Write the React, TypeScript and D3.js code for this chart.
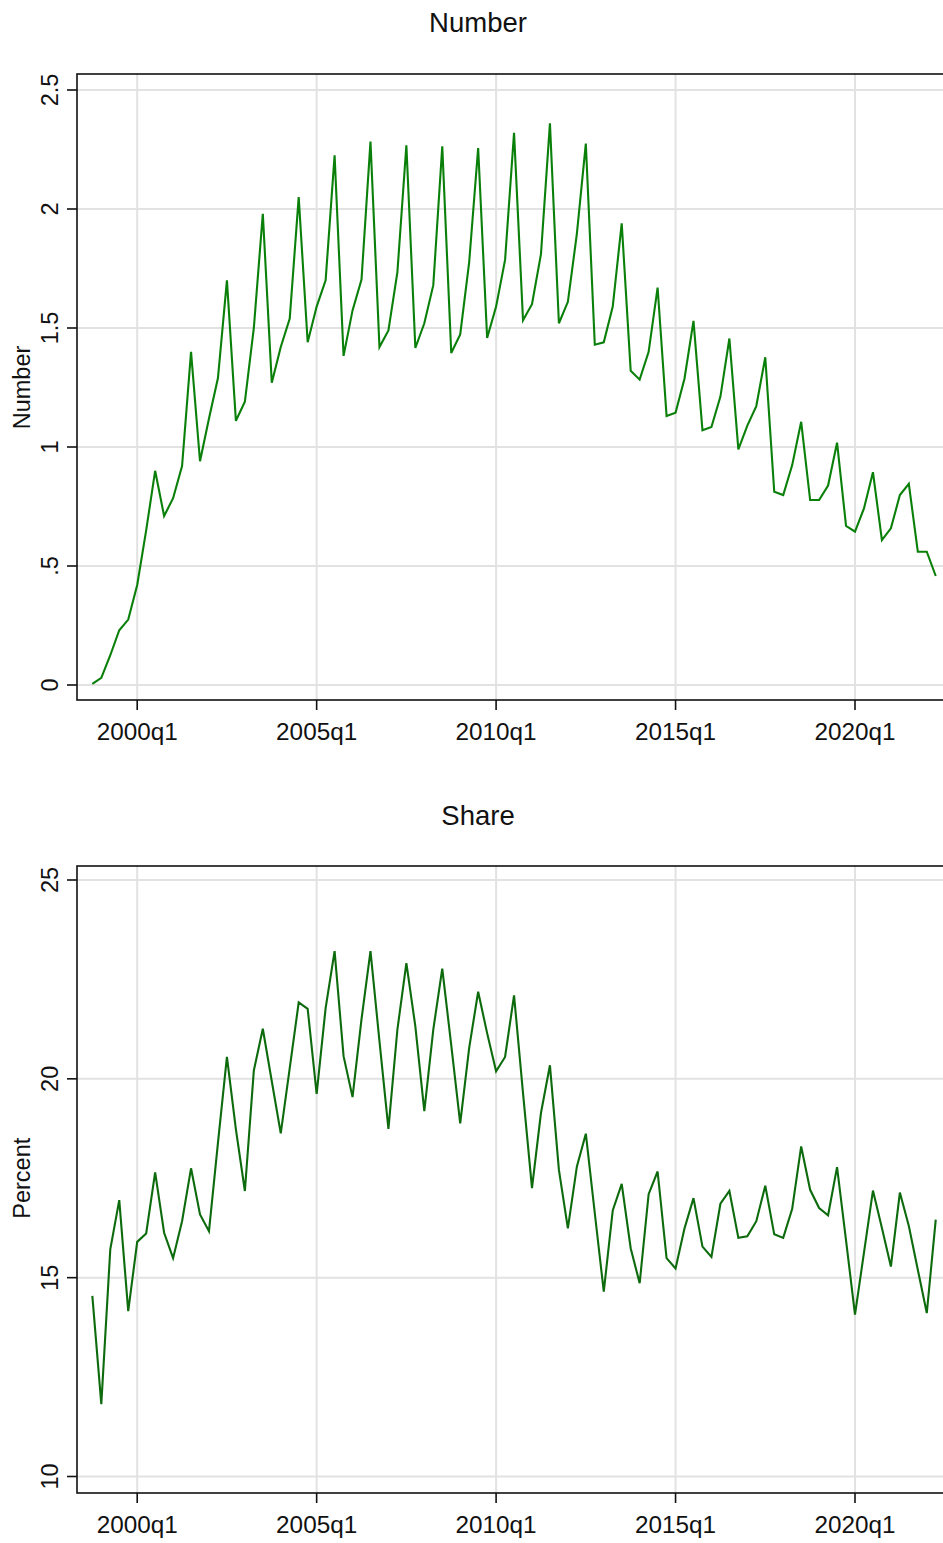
import React from "react";
import * as d3 from "d3";

// quarter index: 0 = 2000q1; data runs from 1998q4 (-5) to 2022q2 (89)
const startIndex = -5;

const numberValues = [
  0.005, 0.03, 0.125, 0.23, 0.275,
  0.42, 0.65, 0.9, 0.71,
  0.785, 0.92, 1.4, 0.94,
  1.12, 1.29, 1.7, 1.11,
  1.19, 1.5, 1.98, 1.27,
  1.42, 1.54, 2.05, 1.44,
  1.59, 1.7, 2.226, 1.383,
  1.574, 1.704, 2.283, 1.42,
  1.49, 1.735, 2.268, 1.416,
  1.52, 1.68, 2.263, 1.395,
  1.473, 1.777, 2.256, 1.458,
  1.59, 1.786, 2.32, 1.532,
  1.6, 1.81, 2.36, 1.52,
  1.61, 1.895, 2.275, 1.43,
  1.44, 1.59, 1.94, 1.32,
  1.283, 1.4, 1.67, 1.13,
  1.144, 1.288, 1.53, 1.07,
  1.084, 1.212, 1.456, 0.99,
  1.09, 1.172, 1.377, 0.812,
  0.798, 0.924, 1.106, 0.777,
  0.777, 0.838, 1.018, 0.669,
  0.644, 0.742, 0.894, 0.609,
  0.658, 0.798, 0.845, 0.56,
  0.56, 0.458,
];

const shareValues = [
  14.54, 11.82, 15.71, 16.95, 14.16,
  15.9, 16.11, 17.65, 16.13,
  15.49, 16.42, 17.75, 16.59,
  16.17, 18.39, 20.55, 18.73,
  17.18, 20.21, 21.26, 19.94,
  18.63, 20.27, 21.92, 21.76,
  19.62, 21.78, 23.21, 20.57,
  19.54, 21.5, 23.21, 20.95,
  18.74, 21.24, 22.91, 21.32,
  19.19, 21.24, 22.77, 20.85,
  18.88, 20.78, 22.19, 21.15,
  20.19, 20.55, 22.1, 19.64,
  17.25, 19.14, 20.34, 17.71,
  16.24, 17.79, 18.62, 16.62,
  14.65, 16.69, 17.36, 15.74,
  14.86, 17.1, 17.67, 15.49,
  15.23, 16.24, 17.0, 15.78,
  15.52, 16.86, 17.18, 16.0,
  16.04, 16.42, 17.31, 16.09,
  16.0, 16.73, 18.3, 17.21,
  16.75, 16.57, 17.78, 15.94,
  14.07, 15.63, 17.19, 16.25,
  15.28, 17.14, 16.3, 15.2,
  14.11, 16.46,
];

const xTickIndices = [0, 20, 40, 60, 80];
const xTickLabels = ["2000q1", "2005q1", "2010q1", "2015q1", "2020q1"];

const numberTicks = [0, 0.5, 1, 1.5, 2, 2.5];
const numberTickLabels = ["0", ".5", "1", "1.5", "2", "2.5"];
const shareTicks = [10, 15, 20, 25];
const shareTickLabels = ["10", "15", "20", "25"];

const W = 943;
const H = 1543;
const FONT = "'Liberation Sans', Arial, sans-serif";

const x = d3.scaleLinear().domain([0, 80]).range([137.2, 855]);

type PanelProps = {
  title: string;
  yTitle: string;
  values: number[];
  ticks: number[];
  tickLabels: string[];
  yDomain: [number, number];
  yRange: [number, number];
  frameTop: number;
  frameBottom: number;
  titleY: number;
  color: string;
};

function Panel(p: PanelProps) {
  const y = d3.scaleLinear().domain(p.yDomain).range(p.yRange);
  const left = 77;
  const right = 946;
  const line = d3
    .line<number>()
    .x((_, i) => x(startIndex + i))
    .y((v) => y(v));
  const yMid = (p.yRange[0] + p.yRange[1]) / 2;
  return (
    <g>
      <text
        x={478}
        y={p.titleY}
        textAnchor="middle"
        fontFamily={FONT}
        fontSize={27.5}
        fill="#111"
      >
        {p.title}
      </text>
      {/* grid */}
      {p.ticks.map((t) => (
        <line
          key={"hg" + t}
          x1={left}
          x2={right}
          y1={y(t)}
          y2={y(t)}
          stroke="#e2e2e2"
          strokeWidth={2}
        />
      ))}
      {xTickIndices.map((t) => (
        <line
          key={"vg" + t}
          x1={x(t)}
          x2={x(t)}
          y1={p.frameTop}
          y2={p.frameBottom}
          stroke="#e2e2e2"
          strokeWidth={2}
        />
      ))}
      {/* data line */}
      <path
        d={line(p.values) || ""}
        fill="none"
        stroke={p.color}
        strokeWidth={2.1}
        strokeLinejoin="miter"
      />
      {/* frame */}
      <rect
        x={left}
        y={p.frameTop}
        width={right - left}
        height={p.frameBottom - p.frameTop}
        fill="none"
        stroke="#111"
        strokeWidth={1.6}
      />
      {/* y ticks */}
      {p.ticks.map((t, i) => (
        <g key={"yt" + t}>
          <line x1={left - 10} x2={left} y1={y(t)} y2={y(t)} stroke="#111" strokeWidth={1.6} />
          <text
            transform={`translate(58,${y(t)}) rotate(-90)`}
            textAnchor="middle"
            fontFamily={FONT}
            fontSize={23.5}
            fill="#111"
          >
            {p.tickLabels[i]}
          </text>
        </g>
      ))}
      <text
        transform={`translate(30,${yMid}) rotate(-90)`}
        textAnchor="middle"
        fontFamily={FONT}
        fontSize={23.5}
        fill="#111"
      >
        {p.yTitle}
      </text>
      {/* x ticks */}
      {xTickIndices.map((t, i) => (
        <g key={"xt" + t}>
          <line
            x1={x(t)}
            x2={x(t)}
            y1={p.frameBottom}
            y2={p.frameBottom + 10}
            stroke="#111"
            strokeWidth={1.6}
          />
          <text
            x={x(t)}
            y={p.frameBottom + 40}
            textAnchor="middle"
            fontFamily={FONT}
            fontSize={24.3}
            fill="#111"
          >
            {xTickLabels[i]}
          </text>
        </g>
      ))}
    </g>
  );
}

export default function App() {
  return (
    <svg
      width={W}
      height={H}
      viewBox={`0 0 ${W} ${H}`}
      style={{ position: "absolute", left: 0, top: 0, background: "#fff" }}
    >
      <rect x={0} y={0} width={W} height={H} fill="#fff" />
      <Panel
        title="Number"
        yTitle="Number"
        values={numberValues}
        ticks={numberTicks}
        tickLabels={numberTickLabels}
        yDomain={[0, 2.5]}
        yRange={[685, 90]}
        frameTop={74}
        frameBottom={700}
        titleY={32}
        color="#0a800a"
      />
      <Panel
        title="Share"
        yTitle="Percent"
        values={shareValues}
        ticks={shareTicks}
        tickLabels={shareTickLabels}
        yDomain={[10, 25]}
        yRange={[1476.5, 880]}
        frameTop={866}
        frameBottom={1493}
        titleY={825}
        color="#0d6b0d"
      />
    </svg>
  );
}
